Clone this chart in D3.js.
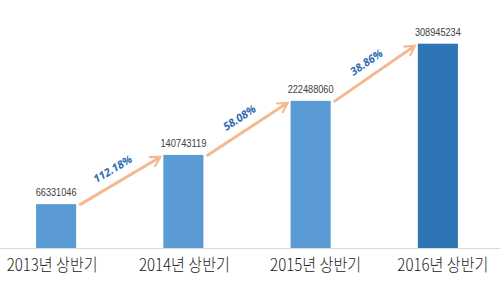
<!DOCTYPE html>
<html>
<head>
<meta charset="utf-8">
<script src="https://cdn.jsdelivr.net/npm/d3@7"></script>
<style>
  body { margin: 0; background: #fff; }
  svg { display: block; }
</style>
</head>
<body>
<div id="graf"></div>
<script>
// datos
var categorias = ["2013년 상반기", "2014년 상반기", "2015년 상반기", "2016년 상반기"];
var valores = [66331046, 140743119, 222488060, 308945234];
var crecimiento = ["112.18%", "58.08%", "38.86%"];

var ancho_total = 500, alto_total = 284;
var base = 248;

var svg = d3.select("#graf").append("svg")
  .attr("width", ancho_total)
  .attr("height", alto_total);

// Escaladores
var x = d3.scaleBand()
  .domain(categorias)
  .range([17, 477])
  .paddingInner(0.685)
  .paddingOuter(0.15);

var y = d3.scaleLinear()
  .domain([0, 375000000])
  .range([base, 0]);

// flecha
svg.append("defs").append("marker")
  .attr("id", "punta")
  .attr("viewBox", "0 0 10 10")
  .attr("refX", 8).attr("refY", 5)
  .attr("markerWidth", 4.4).attr("markerHeight", 4.4)
  .attr("markerUnits", "strokeWidth")
  .attr("orient", "auto")
  .append("path")
  .attr("d", "M1,1 L8,5 L1,9")
  .attr("fill", "none")
  .attr("stroke", "#F5B98F")
  .attr("stroke-width", 1.6)
  .attr("stroke-linecap", "round");

// barras
svg.selectAll("rect.barra")
  .data(valores)
  .join("rect")
  .attr("class", "barra")
  .attr("x", (d, i) => x(categorias[i]))
  .attr("y", d => y(d))
  .attr("width", x.bandwidth())
  .attr("height", d => base - y(d))
  .attr("fill", (d, i) => i == 3 ? "#2E75B6" : "#5B9BD5");

// eje
svg.append("line")
  .attr("x1", 0).attr("x2", ancho_total)
  .attr("y1", base + 0.5).attr("y2", base + 0.5)
  .attr("stroke", "#D9D9D9")
  .attr("stroke-width", 1);

// etiquetas de valor
svg.selectAll("text.valor")
  .data(valores)
  .join("text")
  .attr("class", "valor")
  .attr("x", (d, i) => x(categorias[i]) + x.bandwidth() / 2)
  .attr("y", d => y(d) - 8)
  .attr("text-anchor", "middle")
  .attr("font-family", "Liberation Sans, Arial, sans-serif")
  .attr("font-size", 11)
  .attr("fill", "#404040")
  .attr("textLength", d => String(d).length * 5.1)
  .attr("lengthAdjust", "spacingAndGlyphs")
  .text(d => d);

// categorias
svg.selectAll("text.cat")
  .data(categorias)
  .join("text")
  .attr("class", "cat")
  .attr("x", (d, i) => x(d) + x.bandwidth() / 2 + [-4, 1, 5, 5][i])
  .attr("y", 271)
  .attr("text-anchor", "middle")
  .attr("font-family", "Noto Sans CJK KR, sans-serif")
  .attr("font-size", 17)
  .attr("font-weight", 300)
  .attr("fill", "#222")
  .attr("textLength", 91)
  .attr("lengthAdjust", "spacingAndGlyphs")
  .text(d => d);

// flechas y porcentajes
var pares = d3.range(valores.length - 1).map(i => {
  var x1 = x(categorias[i]) + x.bandwidth() + 3;
  var y1 = y(valores[i]) + 1;
  var x2 = x(categorias[i + 1]) - 3;
  var y2 = y(valores[i + 1]) + 2;
  return { x1: x1, y1: y1, x2: x2, y2: y2, txt: crecimiento[i] };
});

svg.selectAll("line.flecha")
  .data(pares)
  .join("line")
  .attr("class", "flecha")
  .attr("x1", d => d.x1).attr("y1", d => d.y1)
  .attr("x2", d => d.x2).attr("y2", d => d.y2)
  .attr("stroke", "#F5B98F")
  .attr("stroke-width", 3)
  .attr("marker-end", "url(#punta)");

svg.selectAll("text.pct")
  .data(pares)
  .join("text")
  .attr("class", "pct")
  .attr("transform", d => {
    var ang = Math.atan2(d.y2 - d.y1, d.x2 - d.x1) * 180 / Math.PI;
    var mx = (d.x1 + d.x2) / 2, my = (d.y1 + d.y2) / 2;
    return `translate(${mx},${my}) rotate(${ang}) translate(0,-10)`;
  })
  .attr("text-anchor", "middle")
  .attr("font-family", "Open Sans, sans-serif")
  .attr("font-size", 11)
  .attr("font-weight", "bold")
  .attr("font-style", "italic")
  .attr("fill", "#2E6DB0")
  .text(d => d.txt);
</script>
</body>
</html>
